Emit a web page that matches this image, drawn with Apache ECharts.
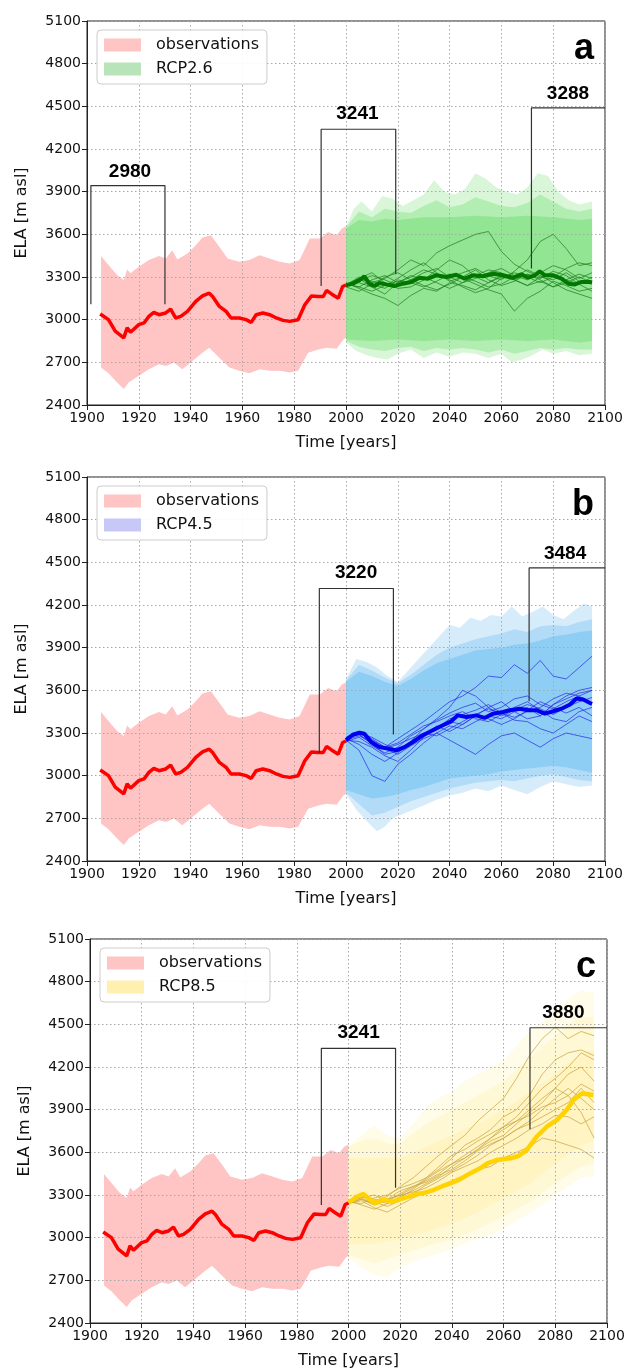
<!DOCTYPE html>
<html>
<head>
<meta charset="utf-8">
<title>ELA scenarios</title>
<script src="https://cdn.jsdelivr.net/npm/echarts@6/dist/echarts.min.js"></script>
<style>
  html, body { margin: 0; padding: 0; background: #fff; }
  #main { width: 629px; height: 1372px; }
</style>
</head>
<body>
<div id="main"></div>
<script>
var myChart = echarts.init(document.getElementById('main'));

// axes
var xMin = 1900, xMax = 2100, xStep = 20;
var yMin = 2400, yMax = 5100, yStep = 300;
var panelNames = ['a', 'b', 'c'];
var scenarioNames = ['RCP2.6', 'RCP4.5', 'RCP8.5'];

// observations (same in every panel)
var obsYears = [1905.1,1908.3,1910.9,1914.2,1915.5,1916.8,1920,1922,1923.9,1925.8,1927.8,1930.4,1932.3,1934.2,1936.2,1938.8,1942,1944.6,1947.2,1948.5,1951.1,1953.7,1955.6,1958.8,1961.4,1963.4,1965.3,1967.9,1970.5,1973.1,1975.7,1978.3,1981.5,1984.1,1986.7,1989.3,1991.2,1992.5,1994.4,1997,1998.7,2000];
var obsMean = [3040,3000,2919,2872,2942,2912,2965,2977,3023,3051,3035,3047,3074,3012,3023,3058,3128,3167,3186,3163,3093,3058,3012,3012,3000,2981,3035,3047,3035,3012,2995,2988,3000,3105,3167,3163,3163,3205,3181,3151,3233,3244];
var obsUpYears = [1905.4,1908.3,1911.6,1914.2,1915.5,1916.8,1920,1923.9,1927.8,1930.4,1932.9,1934.9,1938.8,1942,1944.6,1947.8,1951.1,1954.3,1958.8,1962.7,1966.6,1970.5,1974.4,1978.3,1982.1,1986,1989.9,1993.1,1996.4,1998.3,2000];
var obsUp = [3447,3384,3314,3279,3353,3326,3372,3419,3447,3430,3488,3423,3465,3523,3577,3593,3512,3430,3407,3419,3453,3430,3407,3395,3419,3570,3570,3616,3593,3640,3656];
var obsLoYears = [1905.4,1908.3,1911.6,1914.2,1916.1,1920,1923.9,1927.8,1930.4,1933.6,1936.8,1940.7,1944.6,1947.2,1951.1,1955,1958.8,1962.7,1966.6,1970.5,1974.4,1978.3,1981.5,1985.4,1989.3,1992.5,1996.4,1999,2000];
var obsLo = [2663,2623,2558,2512,2558,2605,2651,2686,2674,2698,2651,2709,2767,2802,2733,2663,2640,2623,2651,2640,2640,2628,2640,2767,2791,2802,2795,2860,2872];

// RCP2.6
var rcp26Mean = [[2000,3241],[2002.6,3253],[2005.2,3277],[2007.1,3305],[2009,3253],[2011,3237],[2012.9,3258],[2015.5,3248],[2018.7,3237],[2021.9,3253],[2025.2,3265],[2028.4,3295],[2031.6,3288],[2034.8,3312],[2038.7,3300],[2042.6,3316],[2045.8,3288],[2049,3312],[2052.9,3305],[2056.8,3323],[2060.6,3312],[2064.5,3295],[2067.7,3319],[2070.3,3295],[2072.9,3312],[2074.8,3340],[2076.8,3312],[2080,3312],[2083.2,3288],[2085.8,3253],[2088.4,3248],[2091,3265],[2094.2,3265],[2095,3262]];
var rcp26OuterUp = [[2000,3650],[2003,3780],[2006,3830],[2010,3760],[2014,3870],[2018,3850],[2022,3800],[2026,3840],[2030,3880],[2034,3980],[2038,3900],[2042,3880],[2046,3920],[2050,4030],[2054,3990],[2058,3930],[2062,3900],[2066,3880],[2070,3930],[2074,4030],[2078,4010],[2082,3900],[2086,3840],[2090,3810],[2095,3830]];
var rcp26OuterLo = [[2000,2840],[2004,2780],[2008,2750],[2012,2730],[2016,2720],[2020,2760],[2025,2790],[2030,2730],[2035,2770],[2040,2740],[2045,2770],[2050,2760],[2055,2730],[2060,2760],[2064,2700],[2068,2720],[2072,2750],[2076,2790],[2080,2760],[2085,2780],[2090,2750],[2095,2760]];
var rcp26MidUp = [[2000,3650],[2005,3760],[2010,3720],[2015,3780],[2020,3760],[2025,3750],[2030,3800],[2035,3840],[2040,3790],[2045,3810],[2050,3860],[2055,3830],[2060,3800],[2065,3790],[2070,3820],[2075,3880],[2080,3830],[2085,3780],[2090,3760],[2095,3780]];
var rcp26MidLo = [[2000,2850],[2005,2810],[2010,2790],[2015,2780],[2020,2800],[2025,2810],[2030,2780],[2035,2800],[2040,2790],[2045,2800],[2050,2790],[2055,2770],[2060,2790],[2065,2760],[2070,2780],[2075,2800],[2080,2790],[2085,2800],[2090,2790],[2095,2790]];
var rcp26InnerUp = [[2000,3640],[2005,3700],[2010,3690],[2015,3710],[2020,3700],[2030,3720],[2040,3720],[2050,3730],[2060,3720],[2070,3730],[2080,3720],[2090,3700],[2095,3710]];
var rcp26InnerLo = [[2000,2860],[2010,2850],[2020,2860],[2030,2850],[2040,2860],[2050,2850],[2060,2860],[2070,2850],[2080,2860],[2090,2840],[2095,2850]];

// RCP4.5
var rcp45Mean = [[2000,3250],[2002.6,3288],[2005.2,3302],[2007.1,3295],[2009.7,3237],[2012.9,3201],[2016.1,3190],[2019.4,3178],[2022.6,3201],[2025.8,3237],[2029.7,3284],[2033.5,3319],[2037.4,3354],[2040.6,3382],[2043.2,3424],[2046.5,3413],[2050.3,3424],[2053.5,3406],[2056.8,3436],[2060.6,3448],[2063.2,3460],[2067.1,3471],[2070.3,3460],[2073.5,3460],[2076.8,3436],[2080,3453],[2083.2,3471],[2086.5,3500],[2089,3542],[2091.6,3535],[2094.2,3511],[2095,3505]];
var rcp45OuterUp = [[2000,3680],[2004,3820],[2008,3800],[2012,3760],[2016,3700],[2020,3660],[2024,3740],[2028,3820],[2032,3900],[2036,3980],[2040,4060],[2044,4040],[2048,4110],[2052,4090],[2056,4130],[2060,4120],[2064,4190],[2068,4120],[2072,4150],[2076,4190],[2080,4130],[2084,4100],[2088,4160],[2092,4210],[2095,4190]];
var rcp45OuterLo = [[2000,2870],[2004,2760],[2008,2680],[2012,2610],[2015,2640],[2018,2700],[2022,2730],[2026,2760],[2030,2790],[2035,2830],[2040,2860],[2045,2880],[2050,2910],[2055,2890],[2060,2930],[2065,2900],[2070,2870],[2075,2920],[2080,2960],[2085,2940],[2090,2920],[2095,2930]];
var rcp45MidUp = [[2000,3670],[2005,3780],[2010,3740],[2015,3690],[2020,3650],[2025,3710],[2030,3780],[2035,3850],[2040,3900],[2045,3930],[2050,3960],[2055,3980],[2060,4000],[2065,4030],[2070,4010],[2075,4050],[2080,4060],[2085,4050],[2090,4080],[2095,4100]];
var rcp45MidLo = [[2000,2880],[2005,2800],[2010,2720],[2015,2740],[2020,2780],[2025,2820],[2030,2850],[2035,2880],[2040,2910],[2045,2930],[2050,2950],[2055,2960],[2060,2970],[2065,2960],[2070,2980],[2075,3000],[2080,3010],[2085,2990],[2090,2970],[2095,2960]];
var rcp45InnerUp = [[2000,3660],[2005,3730],[2010,3700],[2015,3660],[2020,3630],[2025,3680],[2030,3740],[2035,3790],[2040,3820],[2045,3850],[2050,3880],[2055,3890],[2060,3900],[2065,3920],[2070,3930],[2075,3950],[2080,3980],[2085,3990],[2090,4010],[2095,4020]];
var rcp45InnerLo = [[2000,2900],[2005,2870],[2010,2840],[2015,2850],[2020,2870],[2025,2900],[2030,2920],[2035,2950],[2040,2980],[2045,2990],[2050,3000],[2055,3010],[2060,3030],[2065,3040],[2070,3050],[2075,3060],[2080,3070],[2085,3060],[2090,3040],[2095,3020]];

// RCP8.5
var rcp85Mean = [[2000,3246],[2003.2,3288],[2005.7,3307],[2007.7,3276],[2010.3,3241],[2013.5,3269],[2016.7,3252],[2019.9,3269],[2023.2,3288],[2026.4,3307],[2029.6,3316],[2032.8,3335],[2036.1,3360],[2039.3,3382],[2043.1,3410],[2047,3452],[2050.9,3488],[2054,3525],[2057.3,3546],[2062.5,3558],[2065.7,3574],[2068.9,3616],[2072.8,3710],[2076.7,3780],[2080.5,3827],[2084.4,3898],[2087,3968],[2090.2,4014],[2092.1,4010],[2094.7,4003]];
var rcp85OuterUp = [[2000,3650],[2005,3720],[2010,3790],[2015,3720],[2020,3700],[2025,3800],[2030,3920],[2035,3980],[2040,4030],[2045,4100],[2050,4150],[2055,4200],[2060,4250],[2065,4350],[2070,4450],[2075,4520],[2080,4600],[2085,4680],[2090,4740],[2095,4720]];
var rcp85OuterLo = [[2000,2860],[2005,2790],[2010,2740],[2015,2720],[2020,2790],[2025,2830],[2030,2860],[2035,2890],[2040,2920],[2045,2960],[2050,2990],[2055,3020],[2060,3060],[2065,3120],[2070,3170],[2075,3230],[2080,3300],[2085,3360],[2090,3420],[2095,3430]];
var rcp85MidUp = [[2000,3640],[2005,3680],[2010,3700],[2015,3660],[2020,3660],[2025,3730],[2030,3800],[2035,3850],[2040,3900],[2045,3950],[2050,4000],[2055,4050],[2060,4100],[2065,4180],[2070,4260],[2075,4340],[2080,4420],[2085,4500],[2090,4550],[2095,4550]];
var rcp85MidLo = [[2000,2880],[2010,2820],[2020,2880],[2030,2940],[2040,2990],[2050,3060],[2060,3150],[2070,3250],[2080,3380],[2090,3500],[2095,3520]];
var rcp85InnerUp = [[2000,3560],[2010,3560],[2020,3560],[2030,3640],[2040,3720],[2050,3800],[2060,3900],[2070,4020],[2080,4150],[2090,4300],[2095,4320]];
var rcp85InnerLo = [[2000,2950],[2010,2960],[2020,2990],[2030,3040],[2040,3100],[2050,3180],[2060,3280],[2070,3380],[2080,3520],[2090,3650],[2095,3680]];

// single model runs, 5-year steps
var runYears = [2000,2005,2010,2015,2020,2025,2030,2035,2040,2045,2050,2055,2060,2065,2070,2075,2080,2085,2090,2095];
var rcp26Runs = [
  [3250,3290,3230,3180,3260,3310,3280,3350,3420,3380,3300,3260,3310,3280,3240,3300,3320,3280,3250,3300],
  [3240,3300,3260,3290,3350,3420,3380,3470,3520,3560,3600,3620,3480,3390,3340,3300,3280,3330,3270,3250],
  [3250,3230,3280,3310,3260,3300,3350,3320,3290,3330,3360,3310,3280,3340,3420,3550,3600,3500,3380,3400],
  [3230,3200,3250,3220,3280,3260,3230,3270,3320,3290,3250,3210,3180,3060,3150,3200,3270,3240,3200,3220],
  [3260,3220,3180,3150,3100,3170,3220,3200,3260,3240,3210,3260,3300,3280,3320,3280,3230,3260,3300,3260],
  [3240,3270,3310,3280,3240,3280,3330,3360,3300,3260,3290,3330,3360,3310,3280,3330,3380,3350,3290,3330],
  [3250,3260,3230,3300,3330,3280,3240,3210,3250,3300,3270,3230,3250,3300,3350,3310,3260,3210,3180,3150],
  [3240,3290,3330,3260,3220,3230,3280,3320,3280,3230,3190,3220,3290,3330,3300,3260,3300,3360,3400,3380],
  [3250,3230,3200,3240,3290,3350,3400,3330,3270,3300,3350,3280,3240,3270,3320,3290,3340,3310,3250,3200],
  [3245,3280,3270,3240,3270,3260,3300,3260,3220,3260,3310,3350,3330,3280,3240,3270,3230,3280,3320,3290]
];
var rcp45Runs = [
  [3260,3300,3250,3200,3260,3320,3380,3450,3520,3560,3620,3700,3690,3780,3720,3810,3700,3680,3760,3840],
  [3250,3180,3000,2960,3080,3150,3230,3300,3350,3330,3380,3420,3400,3450,3480,3420,3500,3560,3600,3620],
  [3260,3290,3220,3150,3170,3240,3330,3400,3480,3600,3560,3480,3420,3460,3500,3470,3430,3480,3520,3550],
  [3250,3280,3240,3190,3150,3210,3260,3300,3250,3200,3150,3220,3280,3300,3250,3200,3260,3300,3280,3260],
  [3270,3310,3260,3200,3230,3290,3350,3380,3420,3450,3400,3380,3430,3480,3520,3460,3400,3380,3450,3480],
  [3250,3240,3200,3140,3100,3180,3270,3340,3380,3360,3420,3480,3520,3450,3400,3420,3500,3540,3580,3600],
  [3260,3290,3230,3190,3220,3260,3300,3280,3330,3380,3430,3470,3440,3390,3380,3330,3300,3360,3420,3380],
  [3240,3270,3210,3160,3200,3280,3330,3390,3440,3480,3510,3450,3480,3540,3560,3500,3470,3520,3560,3500],
  [3250,3300,3270,3220,3180,3220,3280,3350,3310,3360,3420,3400,3360,3400,3460,3520,3480,3440,3480,3420],
  [3260,3220,3150,3100,3160,3230,3290,3330,3400,3430,3460,3500,3440,3410,3450,3480,3540,3580,3560,3600]
];
var rcp85Runs = [
  [3260,3300,3260,3290,3360,3420,3500,3580,3650,3720,3820,3900,3980,4120,4280,4400,4480,4400,4450,4420],
  [3250,3270,3230,3260,3300,3350,3420,3480,3560,3650,3700,3760,3850,3900,4000,4150,4250,4300,4320,4280],
  [3260,3230,3200,3240,3290,3330,3380,3430,3500,3560,3620,3680,3720,3800,3880,3950,4050,4150,4200,4100],
  [3240,3260,3210,3180,3230,3280,3320,3360,3400,3440,3480,3500,3560,3600,3640,3700,3680,3650,3620,3560],
  [3250,3280,3300,3260,3310,3360,3400,3450,3520,3580,3640,3700,3780,3820,3900,3980,4050,4000,4080,4030],
  [3260,3290,3250,3220,3260,3310,3370,3420,3470,3520,3580,3650,3700,3760,3820,3900,3980,4050,3980,3900],
  [3250,3240,3280,3300,3350,3380,3420,3500,3580,3620,3680,3730,3780,3850,3950,4050,4120,4200,4300,4250],
  [3240,3270,3240,3270,3300,3320,3350,3400,3460,3500,3540,3600,3650,3700,3760,3800,3860,3850,3800,3850],
  [3250,3300,3270,3240,3280,3340,3410,3470,3520,3560,3620,3700,3760,3820,3860,3920,3950,4000,3880,3700],
  [3260,3280,3230,3270,3330,3360,3390,3440,3480,3540,3610,3660,3700,3760,3800,3850,3900,3950,4050,3950]
];

// bracket annotations: [year, ELA] corner points, and label value
var bracketsA = [
  [[1901.5,3109],[1901.5,3943],[1930.1,3943],[1930.1,3109]],
  [[1990.4,3236],[1990.4,4339],[2019.2,4339],[2019.2,3320]],
  [[2071.6,3360],[2071.6,4489],[2100,4489]]
];
var labelsA = [[1916.6,4039,'2980'],[2004.4,4449,'3241'],[2085.7,4585,'3288']];
var bracketsB = [
  [[1989.7,3160],[1989.7,4316],[2018.3,4316],[2018.3,3289]],
  [[2070.7,3523],[2070.7,4461],[2100,4461]]
];
var labelsB = [[2003.9,4426,'3220'],[2084.6,4562,'3484']];
var bracketsC = [
  [[1989.5,3229],[1989.5,4331],[2018.2,4331],[2018.2,3351]],
  [[2070.2,3762],[2070.2,4476],[2100,4476]]
];
var labelsC = [[2003.9,4441,'3241'],[2083.1,4583,'3880']];

var FONT = 'DejaVu Sans';

function zip(xs, ys) {
  return xs.map(function (x, i) { return [x, ys[i]]; });
}

function band(name, up, lo, color, opacity, gi) {
  return {
    name: name, type: 'custom', xAxisIndex: gi, yAxisIndex: gi, z: 2, silent: true,
    itemStyle: { color: color },
    data: [up[0]],
    renderItem: function (params, api) {
      var pts = [];
      for (var i = 0; i < up.length; i++) pts.push(api.coord(up[i]));
      for (var j = lo.length - 1; j >= 0; j--) pts.push(api.coord(lo[j]));
      return { type: 'polygon', shape: { points: pts }, style: { fill: color, opacity: opacity } };
    }
  };
}

function line(name, data, color, width, gi, z, opacity) {
  return {
    name: name, type: 'line', xAxisIndex: gi, yAxisIndex: gi, z: z, silent: true,
    symbol: 'none', showSymbol: false,
    lineStyle: { color: color, width: width, opacity: opacity == null ? 1 : opacity },
    itemStyle: { color: color },
    data: data
  };
}

function labels(data, gi) {
  return {
    type: 'scatter', xAxisIndex: gi, yAxisIndex: gi, z: 8, silent: true,
    symbolSize: 0, data: data, itemStyle: { color: '#000', opacity: 1 },
    label: {
      show: true, position: 'inside', color: '#000', opacity: 1, textBorderWidth: 0,
      fontFamily: 'Liberation Sans', fontWeight: 'bold', fontSize: 19,
      formatter: function (p) { return p.value[2]; }
    }
  };
}

function plain(v) { return String(v); }

var grids = [
  { left: 87, top: 21, width: 518, height: 384 },
  { left: 87, top: 477, width: 518, height: 384 },
  { left: 90, top: 939, width: 517, height: 384 }
];

var xAxes = [], yAxes = [], legends = [], series = [], graphics = [];
var legendColors = ['#b9e4b9', '#c8c8f8', '#fff0b0'];

grids.forEach(function (g, gi) {
  g.show = true; g.borderColor = '#222'; g.borderWidth = 1;
  xAxes.push({
    gridIndex: gi, type: 'value', min: xMin, max: xMax, interval: xStep, z: 3,
    name: 'Time [years]', nameLocation: 'middle', nameGap: 30,
    nameTextStyle: { fontSize: 16, color: '#111', fontFamily: FONT },
    axisLine: { show: true, onZero: false, lineStyle: { color: '#222', width: 1 } },
    axisTick: { show: true, length: 5, lineStyle: { color: '#222' } },
    axisLabel: { fontSize: 14, color: '#111', margin: 6, fontFamily: FONT, formatter: plain },
    splitLine: { show: true, lineStyle: { color: '#a8a8a8', width: 1, type: [1.5, 2.5] } }
  });
  yAxes.push({
    gridIndex: gi, type: 'value', min: yMin, max: yMax, interval: yStep, z: 3,
    name: 'ELA [m asl]', nameLocation: 'middle', nameGap: 57,
    nameTextStyle: { fontSize: 16, color: '#111', fontFamily: FONT },
    axisLine: { show: true, lineStyle: { color: '#222', width: 1 } },
    axisTick: { show: true, length: 5, lineStyle: { color: '#222' } },
    axisLabel: { fontSize: 14, color: '#111', margin: 6, fontFamily: FONT, formatter: plain },
    splitLine: { show: true, lineStyle: { color: '#a8a8a8', width: 1, type: [1.5, 2.5] } }
  });
  legends.push({
    left: g.left + 10, top: g.top + 9, orient: 'vertical', icon: 'rect', z: 10,
    itemWidth: 37, itemHeight: 13, itemGap: 8, padding: [7, 8, 7, 7],
    backgroundColor: 'rgba(255,255,255,0.9)', borderColor: '#cccccc', borderWidth: 1, borderRadius: 4,
    selectedMode: false,
    textStyle: { fontSize: 16, color: '#111', fontFamily: FONT, padding: [0, 0, 0, 10] },
    data: [
      { name: 'observations', itemStyle: { color: '#ffc4c4' } },
      { name: scenarioNames[gi], itemStyle: { color: legendColors[gi] } }
    ]
  });
  graphics.push({
    type: 'text', x: g.left + g.width - 11, y: g.top + 28, z: 10,
    style: { text: panelNames[gi], fill: '#000', font: 'bold 36px "Liberation Sans"', align: 'right', verticalAlign: 'middle' }
  });
  // observed band
  series.push(band('observations', zip(obsUpYears, obsUp), zip(obsLoYears, obsLo), '#ffc4c4', 1, gi));
});

// RCP2.6
series.push(band('rcp26 outer', rcp26OuterUp, rcp26OuterLo, '#92e592', 0.35, 0));
series.push(band('rcp26 mid', rcp26MidUp, rcp26MidLo, '#92e592', 0.55, 0));
series.push(band('RCP2.6', rcp26InnerUp, rcp26InnerLo, '#92e592', 1, 0));
rcp26Runs.forEach(function (r) { series.push(line('', zip(runYears, r), '#1d7d1d', 0.8, 0, 4, 0.9)); });
series.push(line('', rcp26Mean, '#007800', 4, 0, 5));

// RCP4.5
series.push(band('rcp45 outer', rcp45OuterUp, rcp45OuterLo, '#b4dcf7', 0.55, 1));
series.push(band('rcp45 mid', rcp45MidUp, rcp45MidLo, '#9ad1f5', 0.6, 1));
series.push(band('RCP4.5', rcp45InnerUp, rcp45InnerLo, '#8ecdf4', 1, 1));
rcp45Runs.forEach(function (r) { series.push(line('', zip(runYears, r), '#2a2ae8', 0.8, 1, 4, 0.9)); });
series.push(line('', rcp45Mean, '#0000f0', 4, 1, 5));

// RCP8.5
series.push(band('rcp85 outer', rcp85OuterUp, rcp85OuterLo, '#fffbe4', 0.8, 2));
series.push(band('rcp85 mid', rcp85MidUp, rcp85MidLo, '#fff5c8', 0.6, 2));
series.push(band('RCP8.5', rcp85InnerUp, rcp85InnerLo, '#fff0b0', 0.5, 2));
rcp85Runs.forEach(function (r) { series.push(line('', zip(runYears, r), '#c9a33c', 0.9, 2, 4, 0.8)); });
series.push(line('', rcp85Mean, '#ffd200', 4.5, 2, 5));

// observed mean on top, brackets and labels
[0, 1, 2].forEach(function (gi) {
  series.push(line('', zip(obsYears, obsMean), '#ff0000', 3.5, gi, 6));
});
[bracketsA, bracketsB, bracketsC].forEach(function (bs, gi) {
  bs.forEach(function (b) { series.push(line('', b, '#333333', 1.2, gi, 7)); });
});
series.push(labels(labelsA, 0));
series.push(labels(labelsB, 1));
series.push(labels(labelsC, 2));

var option = {
  animation: false,
  backgroundColor: '#fff',
  textStyle: { fontFamily: FONT },
  grid: grids,
  xAxis: xAxes,
  yAxis: yAxes,
  legend: legends,
  graphic: graphics,
  series: series
};
myChart.setOption(option);
</script>
</body>
</html>
